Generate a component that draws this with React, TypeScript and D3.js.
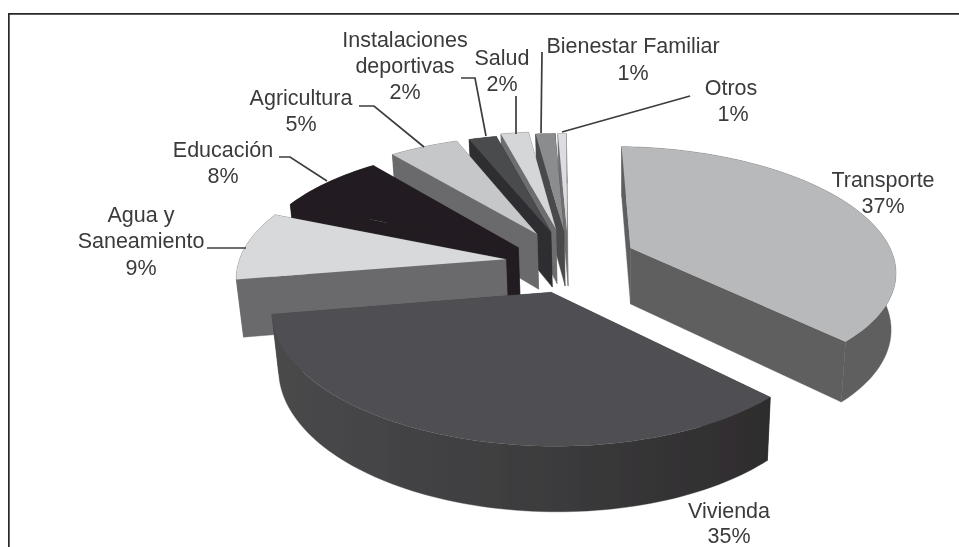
import React from 'react'
import * as d3 from 'd3'

// shares estimated off the drawn wedges, clockwise from 12 o'clock; the printed labels are rounded
const categories = ['Transporte', 'Vivienda', 'Agua y Saneamiento', 'Educación', 'Agricultura', 'Instalaciones deportivas', 'Salud', 'Bienestar Familiar', 'Otros']
const shares = [37.4, 34.6, 9, 8, 5, 2, 2, 1.4, 0.6]

const topColors = ['#b8b9bb', '#4f5052', '#d8d9db', '#231f20', '#c6c7c9', '#4a4b4d', '#d5d6d8', '#8b8c8e', '#dcdde0']
const wallColors = ['#5f5f61', 'url(#viviendaWall)', '#6b6b6d', '#231f20', '#6a6a6c', '#2f2f30', '#6e6e70', '#4a4a4c', '#707072']
// how far each slice is pulled out, in disc radii
const explodeX = [0.24, -0.062, -0.235, -0.19, -0.12, -0.066, -0.047, -0.015, -0.003]
const explodeY = [0.107, -0.26, 0.0, 0.1, 0.22, 0.24, 0.27, 0.25, 0.25]
const paintOrder = [8, 7, 6, 5, 4, 3, 2, 0, 1]

// label text lines: [text, centre x, baseline]
const labelLines: [string, number, number][] = [
  ['Instalaciones', 405, 47], ['deportivas', 405, 73], ['2%', 405, 99],
  ['Salud', 502, 65], ['2%', 502, 91],
  ['Bienestar Familiar', 633, 53], ['1%', 633, 80],
  ['Otros', 731, 95], ['1%', 733, 121],
  ['Agricultura', 301, 105], ['5%', 301, 131],
  ['Educación', 223, 157], ['8%', 223, 183],
  ['Agua y', 141, 222], ['Saneamiento', 141, 248], ['9%', 141, 275],
  ['Transporte', 883, 187], ['37%', 883, 213],
  ['Vivienda', 729, 518], ['35%', 729, 543],
]

const leaders: [number, number][][] = [
  [[461, 78], [475, 78], [486, 136]],
  [[516, 96], [516, 134]],
  [[542, 52], [541, 133]],
  [[690, 96], [562, 132]],
  [[359, 106], [374, 106], [424, 147]],
  [[279, 157], [290, 157], [327, 181]],
  [[207, 248], [246, 248]],
]

// plane -> screen, a hand fitted perspective of the pie disc
const cam = { cx: 568, cy: 260, a: 265, b: -1, c: 3, e: -120, k: 0.15 }
const vanish = { x: 630, y: 3400, s: 0.018 }

function project(X: number, Y: number) {
  const d = 1 + cam.k * Y
  return { x: cam.cx + (cam.a * X + cam.b * Y) / d, y: cam.cy + (cam.c * X + cam.e * Y) / d, d }
}

function drop(p: { x: number; y: number; d: number }): [number, number] {
  const s = vanish.s / p.d
  return [p.x + s * (vanish.x - p.x), p.y + s * (vanish.y - p.y)]
}

const closed = d3.line().curve(d3.curveLinearClosed)
const open = d3.line()

const pieAngles = d3.pie<number>().sort(null)(shares)

export default function App() {
  const slices = pieAngles.map((s, i) => {
    const ox = explodeX[i]
    const oy = explodeY[i]
    const steps = Math.max(4, Math.ceil((s.endAngle - s.startAngle) * 40))
    const rim = d3.range(steps + 1).map((j) => {
      const t = s.startAngle + ((s.endAngle - s.startAngle) * j) / steps
      return project(ox + Math.sin(t), oy + Math.cos(t))
    })
    const apex = project(ox, oy)
    const top: [number, number][] = [[apex.x, apex.y], ...rim.map((p) => [p.x, p.y] as [number, number])]
    const first = rim[0]
    const last = rim[rim.length - 1]
    const walls = [
      [[apex.x, apex.y], [first.x, first.y], drop(first), drop(apex)],
      [[apex.x, apex.y], [last.x, last.y], drop(last), drop(apex)],
      [...rim.map((p) => [p.x, p.y] as [number, number]), ...rim.slice().reverse().map(drop)],
    ] as [number, number][][]
    return { i, top, walls }
  })

  return (
    <svg width={959} height={547} style={{ position: 'absolute', left: 0, top: 0, background: '#fff' }}>
      <defs>
        <linearGradient id="viviendaWall" gradientUnits="userSpaceOnUse" x1={270} x2={770} y1={0} y2={0}>
          <stop offset="0" stopColor="#49494b" />
          <stop offset="0.45" stopColor="#3f3f41" />
          <stop offset="1" stopColor="#2e2c2d" />
        </linearGradient>
        <filter id="scan" x="0" y="0" width="100%" height="100%">
          <feGaussianBlur stdDeviation="0.45" />
        </filter>
      </defs>
      <g filter="url(#scan)">
        <path d="M8.5,547V13.5H959" fill="none" stroke="#2a2829" strokeWidth={2.4} />
        {paintOrder.map((i) => {
          const s = slices[i]
          return (
            <g key={categories[i]}>
              {s.walls.map((w, j) => (
                <path key={j} d={closed(w) || ''} fill={wallColors[i]} stroke={wallColors[i]} strokeWidth={0.4} />
              ))}
              <path d={closed(s.top) || ''} fill={topColors[i]} />
            </g>
          )
        })}
        {leaders.map((l, i) => (
          <path key={i} d={open(l) || ''} fill="none" stroke="#3c3c3e" strokeWidth={1.7} />
        ))}
        {labelLines.map(([t, x, y], i) => (
          <text key={i} x={x} y={y} textAnchor="middle" fontFamily="'Liberation Sans', Arial, sans-serif" fontSize={21.5} fill="#3a3a3c">
            {t}
          </text>
        ))}
      </g>
    </svg>
  )
}
